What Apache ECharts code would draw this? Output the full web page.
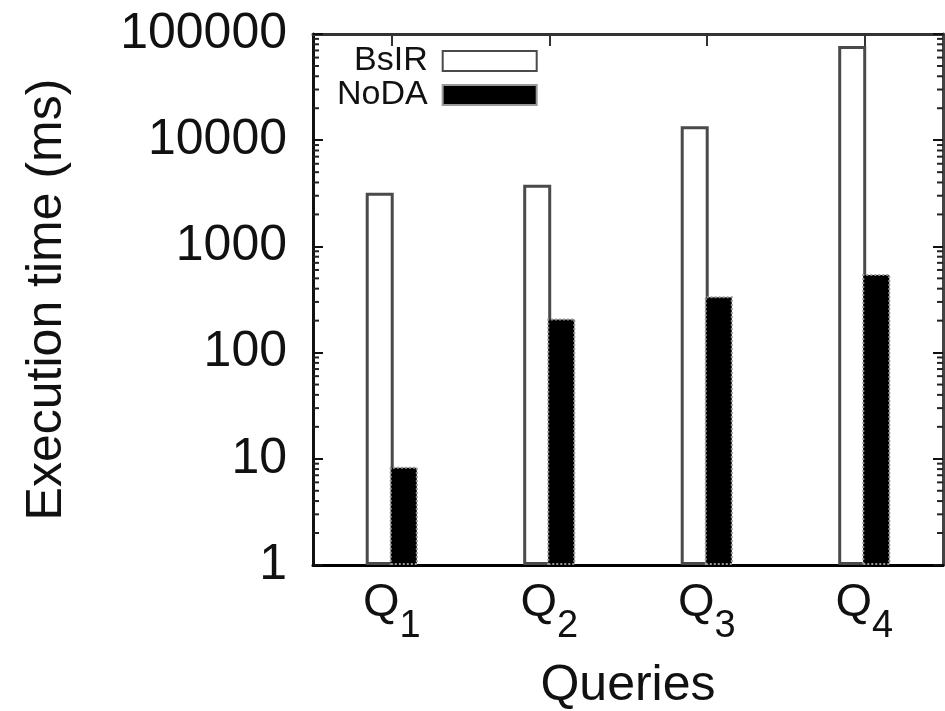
<!DOCTYPE html>
<html>
<head>
<meta charset="utf-8">
<script src="https://cdn.jsdelivr.net/npm/echarts@6/dist/echarts.min.js"></script>
<style>
  html, body { margin: 0; padding: 0; background: #fff; }
  #chart { width: 945px; height: 711px; }
</style>
</head>
<body>
<div id="chart"></div>
<script>
// ---- data ----
const categories = ['1', '2', '3', '4'];           // Q subscripts
const seriesNames = ['BsIR', 'NoDA'];
const bsirValues = [3200, 3800, 13500, 77000];
const nodaValues = [8.4, 210, 340, 550];
const yTickValues = [1, 10, 100, 1000, 10000, 100000];
const minorMultipliers = [2, 3, 4, 5, 6, 7, 8, 9];

const FONT = 'Liberation Sans';
const minorTickData = [];
for (let k = 0; k < yTickValues.length - 1; k++) {
  for (const m of minorMultipliers) minorTickData.push([0, m * yTickValues[k]]);
}

const chart = echarts.init(document.getElementById('chart'));
const option = {
  animation: false,
  backgroundColor: '#fff',
  textStyle: { fontFamily: FONT },
  grid: { left: 313, right: 2, top: 34, bottom: 146, containLabel: false, outerBoundsMode: 'none' },
  legend: {
    data: seriesNames,
    orient: 'vertical',
    align: 'right',
    left: 337,
    top: 44,
    padding: 0,
    itemGap: 0,
    itemWidth: 94,
    itemHeight: 20,
    icon: 'rect',
    textStyle: { fontFamily: FONT, fontSize: 34, color: '#111', padding: [0, 10, 0, 0] }
  },
  xAxis: [{
    type: 'category',
    data: categories,
    position: 'bottom',
    name: 'Queries',
    nameLocation: 'middle',
    nameGap: 96,
    nameTextStyle: { fontFamily: FONT, fontSize: 50, color: '#111' },
    axisLine: { show: true, lineStyle: { color: '#000', width: 3 } },
    axisTick: { show: true, inside: true, alignWithLabel: true, length: 12, lineStyle: { color: '#222', width: 2 } },
    axisLabel: {
      margin: 15,
      formatter: v => '{q|Q}{s|' + v + '}',
      rich: {
        q: { fontFamily: FONT, fontSize: 47, lineHeight: 47, color: '#111', verticalAlign: 'top' },
        s: { fontFamily: FONT, fontSize: 38, lineHeight: 40, padding: [28, 0, 0, 0], color: '#111', verticalAlign: 'top' }
      }
    },
    splitLine: { show: false }
  }, {
    type: 'category',
    data: categories,
    position: 'top',
    axisLine: { show: true, lineStyle: { color: '#333', width: 3 } },
    axisTick: { show: true, inside: true, alignWithLabel: true, length: 12, lineStyle: { color: '#333', width: 2 } },
    axisLabel: { show: false },
    splitLine: { show: false }
  }],
  yAxis: [{
    type: 'log',
    logBase: 10,
    min: 1,
    max: 100000,
    position: 'left',
    name: 'Execution time (ms)',
    nameLocation: 'middle',
    nameRotate: 90,
    nameGap: 241,
    nameTextStyle: { fontFamily: FONT, fontSize: 50, color: '#111' },
    axisLine: { show: true, lineStyle: { color: '#111', width: 3 } },
    axisTick: { show: true, inside: true, length: 10, lineStyle: { color: '#111', width: 2 } },
    axisLabel: {
      margin: 26,
      fontFamily: FONT, fontSize: 50, color: '#111',
      formatter: v => String(Math.round(v))
    },
    splitLine: { show: false }
  }, {
    type: 'log',
    logBase: 10,
    min: 1,
    max: 100000,
    position: 'right',
    axisLine: { show: true, lineStyle: { color: '#444', width: 3 } },
    axisTick: { show: true, inside: true, length: 10, lineStyle: { color: '#111', width: 2 } },
    axisLabel: { show: false },
    splitLine: { show: false }
  }],
  series: [{
    name: 'BsIR',
    type: 'bar',
    data: bsirValues,
    barWidth: 28,
    barGap: '-14%',
    itemStyle: { color: '#fff', borderColor: '#4a4a4a', borderWidth: 3 }
  }, {
    name: 'NoDA',
    type: 'bar',
    data: nodaValues,
    barWidth: 28,
    barGap: '-14%',
    itemStyle: { color: '#000', borderColor: '#999', borderWidth: 2, borderType: 'dotted' }
  }, {
    name: 'minorTicks',
    type: 'custom',
    silent: true,
    data: minorTickData,
    encode: { x: 0, y: 1 },
    renderItem: function (params, api) {
      const y = api.coord([0, api.value(1)])[1];
      const cs = params.coordSys;
      return {
        type: 'group',
        children: [
          { type: 'line', shape: { x1: cs.x, y1: y, x2: cs.x + 6, y2: y }, style: { stroke: '#222', lineWidth: 2 } },
          { type: 'line', shape: { x1: cs.x + cs.width, y1: y, x2: cs.x + cs.width - 6, y2: y }, style: { stroke: '#222', lineWidth: 2 } }
        ]
      };
    }
  }]
};
chart.setOption(option);
</script>
</body>
</html>
